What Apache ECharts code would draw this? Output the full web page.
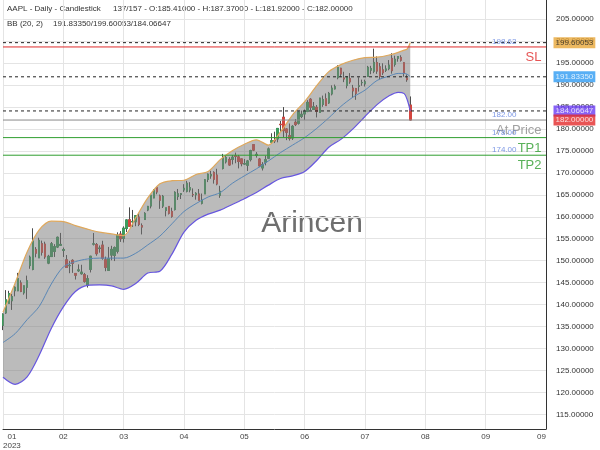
<!DOCTYPE html>
<html><head><meta charset="utf-8">
<script src="https://cdn.jsdelivr.net/npm/echarts@6/dist/echarts.min.js"></script>
<style>html,body{margin:0;padding:0;background:#fff}#c{width:600px;height:450px}</style>
</head><body><div id="c"></div>
<script>
// ---------- data ----------
const dates = [
'01-20','01-23','01-24','01-25','01-26','01-27','01-30','01-31',
'02-01','02-02','02-03','02-06','02-07','02-08','02-09','02-10','02-13','02-14','02-15','02-16','02-17','02-21','02-22','02-23','02-24','02-27','02-28',
'03-01','03-02','03-03','03-06','03-07','03-08','03-09','03-10','03-13','03-14','03-15','03-16','03-17','03-20','03-21','03-22','03-23','03-24','03-27','03-28','03-29','03-30','03-31',
'04-03','04-04','04-05','04-06','04-10','04-11','04-12','04-13','04-14','04-17','04-18','04-19','04-20','04-21','04-24','04-25','04-26','04-27','04-28',
'05-01','05-02','05-03','05-04','05-05','05-08','05-09','05-10','05-11','05-12','05-15','05-16','05-17','05-18','05-19','05-22','05-23','05-24','05-25','05-26','05-30','05-31',
'06-01','06-02','06-05','06-06','06-07','06-08','06-09','06-12','06-13','06-14','06-15','06-16','06-20','06-21','06-22','06-23','06-26','06-27','06-28','06-29','06-30',
'07-03','07-05','07-06','07-07','07-10','07-11','07-12','07-13','07-14','07-17','07-18','07-19','07-20','07-21','07-24','07-25','07-26','07-27','07-28','07-31',
'08-01','08-02','08-03','08-04'];

const opens = [
135.28,138.12,140.31,140.89,143.17,143.16,144.96,142.70,
143.97,148.90,148.03,152.57,150.64,153.88,153.78,149.46,150.95,152.12,153.11,153.51,152.35,150.20,148.87,150.09,147.11,147.71,147.05,
146.83,144.38,148.04,153.79,153.70,152.81,153.56,150.21,147.81,151.28,151.19,152.16,156.08,155.07,157.32,159.30,158.83,158.86,159.94,157.97,159.37,161.53,162.44,
164.27,166.60,164.74,162.43,161.42,162.35,161.22,161.63,164.59,165.09,166.10,165.80,166.09,165.05,165.00,165.19,163.06,165.19,168.49,
169.28,170.09,169.50,164.89,170.98,172.48,173.05,173.02,173.85,173.62,173.16,171.99,171.71,173.00,176.39,173.98,173.13,171.09,172.41,173.32,176.96,177.33,
177.70,181.03,182.63,179.97,178.44,177.90,181.50,181.27,182.80,183.37,183.96,186.73,184.41,184.90,183.74,185.55,186.83,185.89,187.93,189.08,191.63,
193.78,191.57,189.84,191.41,189.26,189.16,189.68,190.50,190.23,191.90,193.35,193.10,195.09,194.10,193.41,193.33,193.67,196.02,194.67,196.06,
196.24,195.04,191.57,185.41];
const highs = [
138.02,143.32,143.16,142.43,144.25,147.23,145.55,144.34,
146.61,151.18,157.38,153.10,155.23,154.58,154.33,151.34,154.26,153.77,155.50,156.33,153.00,151.30,149.95,150.34,147.19,149.17,149.08,
147.23,146.71,151.11,156.30,154.03,153.47,154.54,150.94,153.14,153.40,153.25,156.46,156.74,157.82,159.40,162.14,161.55,160.34,160.77,158.49,161.05,162.47,165.00,
166.29,166.84,165.05,164.96,162.03,162.36,162.06,165.80,166.32,165.39,167.41,168.16,167.87,166.45,165.60,166.31,165.28,168.56,169.85,
170.45,170.35,170.92,167.04,174.30,173.85,173.54,174.03,174.59,174.06,173.21,173.14,172.93,175.24,176.39,174.71,173.38,172.42,173.90,175.77,178.99,179.35,
180.12,181.78,184.95,180.12,181.21,180.84,182.23,183.89,184.15,184.39,186.52,186.99,186.10,185.41,187.05,187.56,188.05,188.39,189.90,190.07,194.48,
193.88,192.98,192.02,192.67,189.99,189.30,191.70,191.19,191.18,194.32,194.33,198.23,196.47,194.97,194.91,194.44,195.64,197.20,196.63,196.49,
196.73,195.18,192.37,187.37];
const lows = [
134.22,137.90,140.30,138.81,141.90,143.08,142.85,142.28,
141.32,148.17,147.83,150.78,150.64,151.17,150.42,149.22,150.92,150.86,152.88,153.35,150.85,148.41,147.16,147.24,145.72,147.45,146.83,
145.01,143.90,147.33,153.46,151.13,151.83,150.23,147.61,147.70,150.10,149.92,151.64,154.28,154.15,156.54,157.81,157.68,157.85,157.87,155.98,159.35,161.27,161.91,
164.22,165.11,161.80,162.00,160.08,160.51,159.78,161.42,163.82,164.03,165.65,165.54,165.56,164.49,163.89,163.73,162.80,165.19,167.88,
168.64,167.54,167.16,164.31,170.76,172.11,171.60,171.90,172.17,171.00,171.47,171.80,170.42,172.58,174.94,173.45,171.28,170.52,171.69,173.11,176.57,176.76,
176.93,179.26,178.04,177.43,177.32,177.46,180.63,180.97,182.44,182.02,183.78,184.27,184.41,182.59,183.67,185.01,185.23,185.67,187.60,188.94,191.26,
191.76,190.62,189.20,190.24,187.04,186.60,188.47,189.78,189.63,191.81,192.42,192.65,192.50,191.23,192.25,192.92,193.32,192.55,194.14,195.26,
195.28,191.85,190.69,181.92];
const closes = [
137.87,141.11,142.53,141.86,143.96,145.93,143.00,144.29,
145.43,150.82,154.50,151.73,154.65,151.92,150.87,151.01,153.85,153.20,155.33,153.71,152.55,148.48,148.91,149.40,146.71,147.92,147.41,
145.31,145.91,151.03,153.83,151.60,152.87,150.59,148.50,150.47,152.59,152.99,155.85,155.00,157.40,159.28,157.83,158.93,160.25,158.28,157.65,160.77,162.36,164.90,
166.17,165.63,163.76,164.66,162.03,160.80,160.10,165.56,165.21,165.23,166.47,167.63,166.65,165.02,165.33,163.77,163.76,168.41,169.68,
169.59,168.54,167.45,165.79,173.57,173.50,171.77,173.56,173.75,172.57,172.07,172.07,172.69,175.05,175.16,174.20,171.56,171.84,172.99,175.43,177.30,177.25,
180.09,180.95,179.58,179.21,177.82,180.57,180.96,183.79,183.31,183.95,186.01,184.92,185.01,183.96,187.00,186.68,185.27,188.06,189.25,189.59,193.97,
192.46,191.33,191.81,190.68,188.61,188.08,189.77,190.54,190.69,193.99,193.73,195.10,193.13,191.94,192.75,193.62,194.50,193.22,195.83,196.45,
195.61,192.58,191.17,182.00];

// Bollinger band (20, 2) at these bar indices
const bandIdx  = [0,4,8,12,16,20,24,28,32,36,40,44,48,52,56,60,64,68,72,76,80,84,88,92,96,100,104,108,112,116,120,124,128,131,133,134,135];
const bbUpper  = [138.3,144.9,152.0,157.0,159.0,158.9,158.0,157.2,156.5,156.1,155.7,159.8,164.3,167.5,168.2,168.3,169.6,170.3,173.0,175.0,176.5,177.5,176.3,179.3,183.2,186.2,189.8,193.0,194.6,195.6,196.2,196.3,196.8,197.4,197.9,198.2,199.60053];
const bbMiddle = [131.4,133.4,136.6,139.6,144.7,148.6,149.8,150.4,150.6,150.6,150.6,151.7,153.6,155.6,158.4,161.2,163.0,164.5,165.5,167.6,169.3,170.9,172.7,174.6,176.3,178.0,180.1,182.5,185.1,187.2,188.8,191.0,192.0,192.6,192.6,192.4,191.8335];
const bbLower  = [123.5,121.9,123.6,128.5,134.6,139.5,143.0,144.4,144.5,144.3,143.5,144.8,147.2,147.6,151.5,156.5,159.2,160.6,161.5,162.8,164.1,165.5,167.2,168.7,169.3,170.3,172.8,175.8,177.6,180.0,182.8,185.5,187.5,188.3,188.0,186.6,184.06647];

const xTickLabels = ['  01\n2023','02','03','04','05','06','07','08','09','09'];
const yTicks = [115,120,125,130,135,140,145,150,155,160,165,170,175,180,185,190,195,200,205,210];

const levelNames  = ['SL','At Price','TP1','TP2'];
const levelValues = [198.62,182.00,178.00,174.00];
const bandLevels  = [199.60053,191.83350,184.06647];
const lastClose   = 182.00;

const headerLine1a = 'AAPL - Daily - Candlestick';
const headerLine1b = '137/157 - O:185.41000 - H:187.37000 - L:181.92000 - C:182.00000';
const headerLine2a = 'BB (20, 2)';
const headerLine2b = '191.83350/199.60053/184.06647';
const watermark = 'Arincen';

// ---------- styling / layout ----------
const SLOTS = 181;
const FONT = 'Liberation Sans, Arial, sans-serif';
const levelColors = ['#e02b2b','#8a8a8a','#2f9e2f','#2f9e2f'];
const bandBadgeBg = ['#e8a73a','#2e9bf2','#6a3cf4'];
const bandBadgeFg = ['#222','#fff','#fff'];

const slots = [];
for (let i = 0; i < SLOTS; i++) slots.push(i < dates.length ? '2023-' + dates[i] : 'pad' + i);

const wickData = dates.map((d, i) => [opens[i], closes[i], lows[i], highs[i]]);
const bodyData = dates.map((d, i) => [opens[i], closes[i], Math.min(opens[i], closes[i]), Math.max(opens[i], closes[i])]);

const lowerPts = bandIdx.map((x, k) => [x, bbLower[k]]);
const upperPts = bandIdx.map((x, k) => [x, bbUpper[k]]);
const midPts   = bandIdx.map((x, k) => [x, bbMiddle[k]]);
const widthPts = bandIdx.map((x, k) => [x, bbUpper[k] - bbLower[k]]);

// horizontal level lines: one line series per colour, each level a 2-point segment, segments split by a gap
function levelLines(id, values, color, type) {
  const pts = [];
  values.forEach((v, k) => {
    if (k > 0) pts.push(['-', '-']);
    pts.push([0, v], [SLOTS - 1, v]);
  });
  return {id: id, type: 'line', data: pts, symbol: 'none', silent: true, z: 4, connectNulls: false,
          color: color, lineStyle: {color: color, type: type, width: 1}};
}
const colourGroups = {};
levelValues.forEach((v, k) => { (colourGroups[levelColors[k]] = colourGroups[levelColors[k]] || []).push(v); });
const levelSeriesList = [levelLines('bandLevels', bandLevels, '#222', [3, 3])];
Object.keys(colourGroups).forEach((c, g) => levelSeriesList.push(levelLines('lvl' + g, colourGroups[c], c, 'solid')));

// labels anchored at the right end of each level (scatter points with invisible symbols)
const labelItems = [];
const badgeLabel = (txt, bg, fg) => ({show: true, position: 'right', distance: 7, formatter: txt,
  backgroundColor: bg, color: fg, fontSize: 8, padding: [2, 2, 1, 2], fontFamily: FONT});
bandLevels.forEach((v, k) => labelItems.push({value: [SLOTS - 1, v],
  label: badgeLabel(v.toFixed(5), bandBadgeBg[k], bandBadgeFg[k])}));
levelValues.forEach((v, k) => {
  labelItems.push({value: [SLOTS - 1, v], label: {show: true, position: 'left', distance: 29,
    verticalAlign: 'bottom', padding: [0, 0, 1, 0],
    formatter: v.toFixed(2), color: '#5b7ddf', fontSize: 8, fontFamily: FONT}});
  labelItems.push({value: [SLOTS - 1, v], label: {show: true, position: 'left', distance: 4,
    verticalAlign: 'top', padding: [4, 0, 0, 0],
    formatter: levelNames[k], color: levelColors[k], fontSize: 13, fontFamily: FONT}});
});
labelItems.push({value: [SLOTS - 1, lastClose], label: badgeLabel(lastClose.toFixed(5), '#e32b2b', '#fff')});

const chart = echarts.init(document.getElementById('c'), null, {renderer: 'canvas'});
chart.setOption({
  animation: false,
  backgroundColor: '#fff',
  textStyle: {fontFamily: FONT},
  grid: {left: 2, right: 54, top: 0, bottom: 18},
  xAxis: {
    type: 'category', data: slots, boundaryGap: false,
    axisLine: {show: true, lineStyle: {color: '#333'}},
    axisTick: {show: false},
    axisLabel: {interval: 19, formatter: (v, i) => xTickLabels[Math.round(i / 20)] || '',
                fontSize: 8, color: '#444', margin: 3, lineHeight: 9,
                alignMinLabel: 'left', alignMaxLabel: 'right'},
    splitLine: {show: true, interval: 19, lineStyle: {color: '#e4e4e4'}}
  },
  yAxis: {
    type: 'value', position: 'right', min: 111.73, max: 209.3,
    axisLine: {show: true, lineStyle: {color: '#333'}},
    axisTick: {show: false, customValues: yTicks},
    axisLabel: {customValues: yTicks, formatter: v => v.toFixed(5), color: '#333', fontSize: 8, margin: 10},
    splitLine: {show: true, lineStyle: {color: '#e4e4e4'}}
  },
  graphic: [
    {type: 'text', x: 7, y: 9, style: {text: headerLine1a, fill: '#333', fontSize: 8, fontFamily: FONT, verticalAlign: 'middle'}},
    {type: 'text', x: 113, y: 9, style: {text: headerLine1b, fill: '#333', fontSize: 8, fontFamily: FONT, verticalAlign: 'middle'}},
    {type: 'text', x: 7, y: 24, style: {text: headerLine2a, fill: '#333', fontSize: 8, fontFamily: FONT, verticalAlign: 'middle'}},
    {type: 'text', x: 53, y: 24, style: {text: headerLine2b, fill: '#333', fontSize: 8, fontFamily: FONT, verticalAlign: 'middle'}},
    {type: 'text', x: 312, y: 224, style: {text: watermark, fill: '#6e6e6e', fontSize: 30, fontFamily: FONT, align: 'center', verticalAlign: 'middle'}}
  ],
  series: [
    {type: 'line', data: lowerPts, stack: 'bb', smooth: 0.3, symbol: 'none', lineStyle: {opacity: 0}, silent: true},
    {type: 'line', data: widthPts, stack: 'bb', smooth: 0.3, symbol: 'none', lineStyle: {opacity: 0},
     areaStyle: {color: 'rgba(120,120,120,0.5)', opacity: 1}, silent: true},
    {type: 'line', data: upperPts, smooth: 0.3, symbol: 'none', lineStyle: {color: '#dfa85c', width: 1.2}, silent: true},
    {type: 'line', data: lowerPts, smooth: 0.3, symbol: 'none', lineStyle: {color: '#6757df', width: 1.2}, silent: true},
    {type: 'line', data: midPts, smooth: 0.3, symbol: 'none', lineStyle: {color: '#5a87b6', width: 1}, silent: true},
    {type: 'candlestick', data: wickData, barWidth: 2,
     itemStyle: {color: '#4a4a4a', color0: '#4a4a4a', borderColor: '#4a4a4a', borderColor0: '#4a4a4a', borderWidth: 1}},
    {type: 'candlestick', data: bodyData, barWidth: 2,
     itemStyle: {color: '#3d9b5c', color0: '#d4463f', borderColor: '#3d9b5c', borderColor0: '#d4463f', borderWidth: 1}}
  ].concat(levelSeriesList).concat([
    {type: 'scatter', data: labelItems, symbol: 'rect', symbolSize: 1, clip: false, silent: true, z: 6,
     itemStyle: {color: 'rgba(0,0,0,0)'}}
  ])
});
</script></body></html>
